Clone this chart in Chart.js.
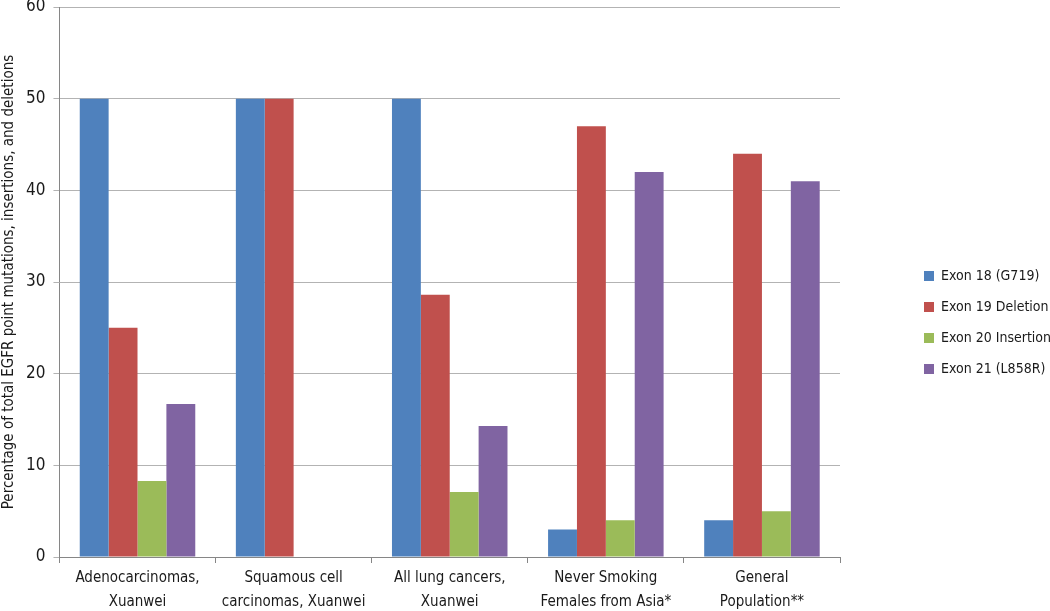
<!DOCTYPE html>
<html>
<head>
<meta charset="utf-8">
<script src="https://cdn.jsdelivr.net/npm/chart.js@4"></script>
<style>
  html, body { margin: 0; padding: 0; background: #fff; }
  #wrap { width: 1050px; height: 611px; }
</style>
</head>
<body>
<div id="wrap"><canvas id="grafico"></canvas></div>
<script>
const categorias = [
  ['Adenocarcinomas,', 'Xuanwei'],
  ['Squamous cell', 'carcinomas, Xuanwei'],
  ['All lung cancers,', 'Xuanwei'],
  ['Never Smoking', 'Females from Asia*'],
  ['General', 'Population**']
];
const exon18 = [50, 50, 50, 3, 4];
const exon19 = [25, 50, 28.6, 47, 44];
const exon20 = [8.3, 0, 7.1, 4, 5];
const exon21 = [16.7, 0, 14.3, 42, 41];
const ticksY = [0, 10, 20, 30, 40, 50, 60];

const fuente = "'Liberation Sans Narrow', 'DejaVu Sans Condensed', sans-serif";

// mueve la leyenda un poco (abajo y a la derecha) como en el original
const moverLeyenda = {
  id: 'moverLeyenda',
  afterLayout(chart) {
    const l = chart.legend;
    l.top += 17; l.bottom += 17;
    l.left += 11; l.right += 11;
  }
};

const ctx = document.getElementById('grafico').getContext('2d');
const grafico = new Chart(ctx, {
  type: 'bar',
  data: {
    labels: categorias,
    datasets: [
      { label: 'Exon 18 (G719)', data: exon18, backgroundColor: '#4F81BD' },
      { label: 'Exon 19 Deletion', data: exon19, backgroundColor: '#C0504D' },
      { label: 'Exon 20 Insertion', data: exon20, backgroundColor: '#9BBB59' },
      { label: 'Exon 21 (L858R)', data: exon21, backgroundColor: '#8064A2' }
    ]
  },
  plugins: [moverLeyenda],
  options: {
    responsive: true,
    maintainAspectRatio: false,
    animation: false,
    layout: { padding: 0 },
    datasets: { bar: { categoryPercentage: 0.74, barPercentage: 1, borderWidth: 0 } },
    plugins: {
      legend: {
        position: 'right',
        labels: {
          boxWidth: 10,
          boxHeight: 10,
          padding: 17,
          color: '#1a1a1a',
          font: { family: fuente, size: 14 }
        }
      },
      tooltip: { enabled: false }
    },
    scales: {
      x: {
        grid: { display: true, drawOnChartArea: false, drawTicks: true, tickLength: 6, color: '#868686' },
        border: { color: '#868686' },
        ticks: { color: '#1a1a1a', font: { family: fuente, size: 15, lineHeight: 1.6 }, padding: 3, maxRotation: 0 },
        afterFit: function(scale) { scale.height = 54; }
      },
      y: {
        min: 0,
        max: 60,
        afterBuildTicks: function(scale) {
          scale.ticks = ticksY.map(v => ({ value: v }));
        },
        afterFit: function(scale) { scale.paddingTop = 7; scale.paddingBottom = 0; },
        grid: { color: '#b3b3b3', tickLength: 6 },
        border: { color: '#868686' },
        ticks: { color: '#1a1a1a', font: { family: fuente, size: 17 }, padding: 8 },
        title: {
          display: true,
          text: 'Percentage of total EGFR point mutations, insertions, and deletions',
          color: '#1a1a1a',
          font: { family: fuente, size: 15 },
          padding: { top: 0, bottom: 0 }
        }
      },
      hueco: {
        type: 'linear',
        position: 'right',
        display: true,
        grid: { display: false },
        border: { display: false },
        ticks: { display: false },
        afterFit: function(scale) { scale.width = 56; }
      }
    }
  }
});
</script>
</body>
</html>
